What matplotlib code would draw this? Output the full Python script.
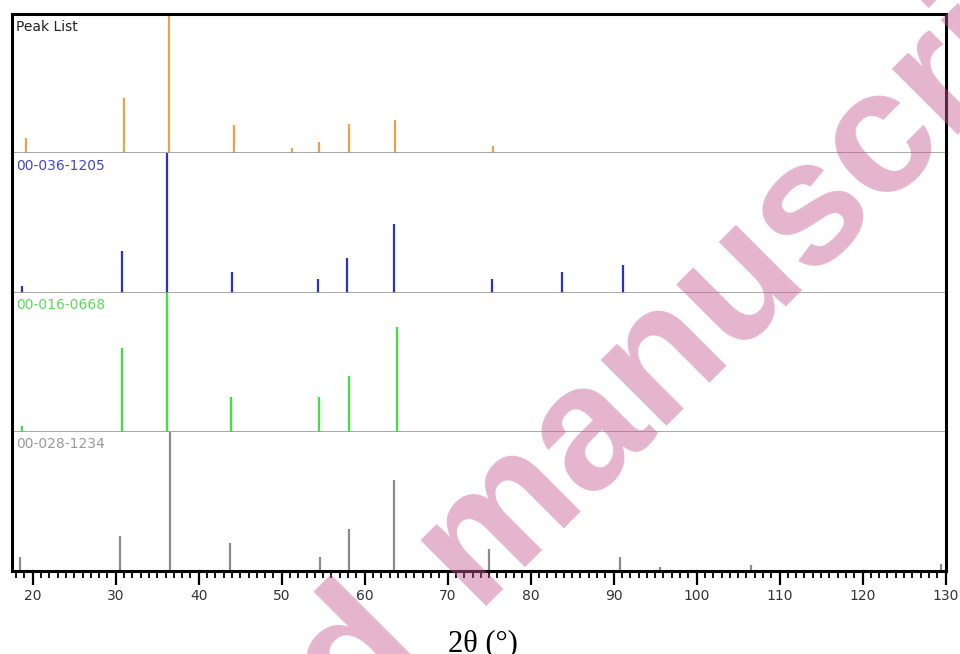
import matplotlib.pyplot as plt
from matplotlib.ticker import MultipleLocator

# stick patterns: 2-theta positions (deg) and relative intensities (%)
peak_list_pos = [19.2, 31.0, 36.4, 44.2, 51.2, 54.5, 58.1, 63.6, 75.5]
peak_list_int = [11, 40, 100, 20, 4, 8, 21, 24, 5]

ref_1205_pos = [18.7, 30.8, 36.2, 44.0, 54.4, 57.9, 63.5, 75.4, 83.8, 91.1]
ref_1205_int = [5, 30, 100, 15, 10, 25, 49, 10, 15, 20]

ref_0668_pos = [18.7, 30.7, 36.2, 43.9, 54.5, 58.1, 63.9]
ref_0668_int = [4, 60, 100, 25, 25, 40, 75]

ref_1234_pos = [18.5, 30.5, 36.6, 43.8, 54.6, 58.1, 63.5, 75.0, 90.8, 95.6, 106.6, 129.4]
ref_1234_int = [10, 25, 100, 20, 10, 30, 65, 16, 10, 3, 4, 5]

panel_names = ["Peak List", "00-036-1205", "00-016-0668", "00-028-1234"]
stick_colors = ["#F0A048", "#2E2ED2", "#3AE63A", "#8A8A8A"]
name_colors = ["#222222", "#4646C8", "#5ADC5A", "#9A9A9A"]

patterns = [(peak_list_pos, peak_list_int), (ref_1205_pos, ref_1205_int),
            (ref_0668_pos, ref_0668_int), (ref_1234_pos, ref_1234_int)]

fig = plt.figure(figsize=(9.6, 6.54), dpi=100)
gs = fig.add_gridspec(4, 1, left=0.0125, right=0.9854, top=0.9786, bottom=0.1269, hspace=0)
axes = []
for i in range(4):
    ax = fig.add_subplot(gs[i], sharex=axes[0] if axes else None)
    axes.append(ax)

for i, ax in enumerate(axes):
    pos, inten = patterns[i]
    ax.vlines(pos, 0, inten, color=stick_colors[i], lw=1.6)
    ax.set_ylim(0, 100)
    ax.set_yticks([])
    ax.text(0.0045, 0.96, panel_names[i], transform=ax.transAxes, ha="left", va="top",
            fontsize=10, color=name_colors[i])
    for side in ["left", "right"]:
        ax.spines[side].set_color("black")
        ax.spines[side].set_linewidth(2.2)
    if i == 0:
        ax.spines["top"].set_color("black")
        ax.spines["top"].set_linewidth(2.2)
    else:
        ax.spines["top"].set_visible(False)
    if i < 3:
        ax.spines["bottom"].set_color("#999999")
        ax.spines["bottom"].set_linewidth(1.2)
        ax.tick_params(axis="x", which="both", bottom=False, labelbottom=False)
    else:
        ax.spines["bottom"].set_color("black")
        ax.spines["bottom"].set_linewidth(2.2)

ax = axes[-1]
ax.set_xlim(17.5, 130.05)
ax.xaxis.set_major_locator(MultipleLocator(10))
ax.xaxis.set_minor_locator(MultipleLocator(1))
ax.tick_params(axis="x", which="major", direction="out", length=10, width=1.6,
               labelsize=10, labelcolor="#333333", pad=3)
ax.tick_params(axis="x", which="minor", direction="out", length=5, width=1.3)

fig.text(0.503, 0.004, "2θ (°)", ha="center", va="baseline",
         fontsize=22, family="Liberation Serif", color="black")

# diagonal watermark across the page
wm = dict(rotation=45, rotation_mode="anchor", va="baseline", fontsize=127,
          family="Liberation Sans", weight="bold", color="#C55A92", alpha=0.45,
          transform=None, zorder=10)
fig.text(475, 48, "manuscript", ha="left", **wm)
fig.text(430, 1, "Accepted", ha="right", **wm)

fig.savefig("out.png", dpi=100)
